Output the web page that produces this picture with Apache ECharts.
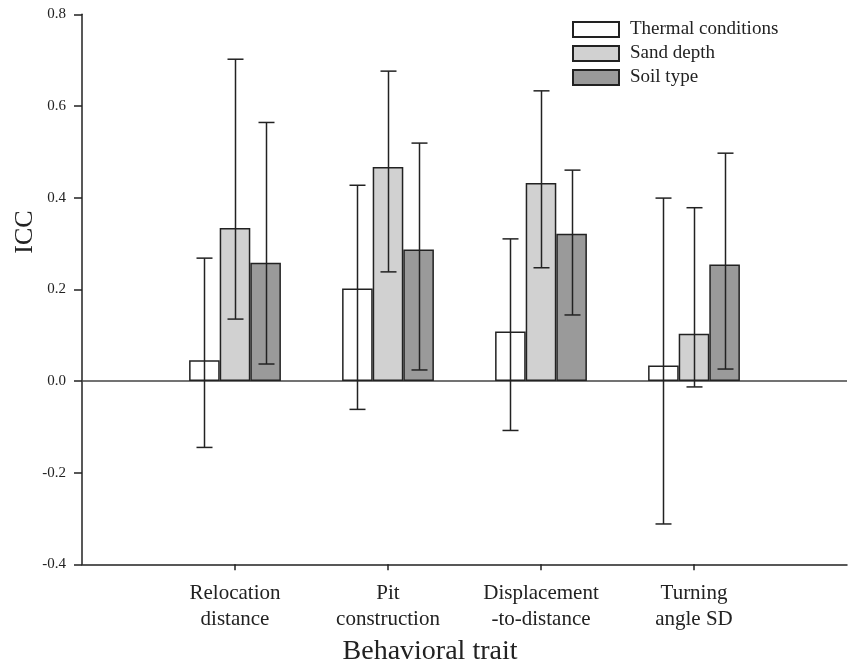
<!DOCTYPE html>
<html>
<head>
<meta charset="utf-8">
<script src="https://cdn.jsdelivr.net/npm/echarts@6/dist/echarts.min.js"></script>
<style>
html,body{margin:0;padding:0;background:#fff;}
#chart{width:848px;height:670px;}
</style>
</head>
<body>
<div id="chart"></div>
<script>
// ---- data ----
var categories = ['', 'Relocation\ndistance', 'Pit\nconstruction', 'Displacement\n-to-distance', 'Turning\nangle SD', ''];
var seriesNames = ['Thermal conditions', 'Sand depth', 'Soil type'];
var thermal = [null, 0.045, 0.202, 0.108, 0.034, null];
var thermalLow = [null, -0.145, -0.062, -0.108, -0.312, null];
var thermalHigh = [null, 0.268, 0.427, 0.310, 0.399, null];
var sand = [null, 0.334, 0.467, 0.432, 0.103, null];
var sandLow = [null, 0.135, 0.238, 0.247, -0.013, null];
var sandHigh = [null, 0.702, 0.676, 0.633, 0.378, null];
var soil = [null, 0.258, 0.287, 0.321, 0.254, null];
var soilLow = [null, 0.037, 0.024, 0.144, 0.026, null];
var soilHigh = [null, 0.564, 0.519, 0.460, 0.497, null];
var yTicks = [-0.4, -0.2, 0.0, 0.2, 0.4, 0.6, 0.8];

// ---- styling ----
var FONT = '"Liberation Serif", "DejaVu Serif", serif';
var INK = '#222222';
var BAR_W = 30.6;
var CAP_HALF = 8;
var fills = ['#ffffff', '#d1d1d1', '#9a9a9a'];

function errData(low, high) {
  var out = [];
  for (var i = 0; i < low.length; i++) {
    if (low[i] != null) out.push([i, low[i], high[i]]);
  }
  return out;
}

function errSeries(low, high, offset) {
  return {
    type: 'custom',
    silent: true,
    z: 10,
    data: errData(low, high),
    encode: { x: 0, y: [1, 2] },
    renderItem: function (params, api) {
      var lo = api.coord([api.value(0), api.value(1)]);
      var hi = api.coord([api.value(0), api.value(2)]);
      var x = Math.round(lo[0] + offset) + 0.5;
      var style = { stroke: INK, lineWidth: 1.5 };
      return {
        type: 'group',
        children: [
          { type: 'line', shape: { x1: x, y1: lo[1], x2: x, y2: hi[1] }, style: style },
          { type: 'line', shape: { x1: x - CAP_HALF, y1: lo[1], x2: x + CAP_HALF, y2: lo[1] }, style: style },
          { type: 'line', shape: { x1: x - CAP_HALF, y1: hi[1], x2: x + CAP_HALF, y2: hi[1] }, style: style }
        ]
      };
    }
  };
}

function barSeries(name, data, fill, extra) {
  var s = {
    name: name,
    type: 'bar',
    data: data,
    barWidth: BAR_W,
    barGap: '0%',
    itemStyle: { color: fill, borderColor: INK, borderWidth: 1.5 },
    emphasis: { disabled: true },
    z: 3
  };
  if (extra) for (var k in extra) s[k] = extra[k];
  return s;
}

var chart = echarts.init(document.getElementById('chart'), null, { renderer: 'canvas' });

var option = {
  animation: false,
  backgroundColor: '#ffffff',
  textStyle: { fontFamily: FONT },
  grid: { left: 82, right: 1, top: 14.3, bottom: 105.7, containLabel: false },
  legend: {
    orient: 'vertical',
    left: 567,
    top: 15,
    itemWidth: 46,
    itemHeight: 15,
    itemGap: 5,
    icon: 'rect',
    data: seriesNames,
    textStyle: { fontFamily: FONT, fontSize: 19, color: INK, padding: [0, 0, 0, 6] },
    selectedMode: false
  },
  xAxis: {
    type: 'category',
    data: categories,
    boundaryGap: false,
    axisLine: { show: true, onZero: false, lineStyle: { color: INK, width: 1.5 } },
    axisTick: {
      show: true,
      length: 6,
      inside: false,
      interval: function (index) { return index >= 1 && index <= 4; },
      lineStyle: { color: INK, width: 1.5 }
    },
    axisLabel: {
      show: true,
      interval: function (index) { return index >= 1 && index <= 4; },
      fontFamily: FONT,
      fontSize: 21,
      lineHeight: 26,
      color: INK,
      margin: 16
    },
    splitLine: { show: false }
  },
  yAxis: {
    type: 'value',
    min: -0.4,
    max: 0.8,
    interval: 0.2,
    axisLine: { show: true, lineStyle: { color: INK, width: 1.5 } },
    axisTick: { show: true, inside: false, length: 8, lineStyle: { color: INK, width: 1.5 } },
    axisLabel: {
      fontFamily: FONT,
      fontSize: 15,
      color: INK,
      margin: 16,
      formatter: function (v) {
        var t = yTicks.filter(function (y) { return Math.abs(y - v) < 1e-9; });
        return t.length ? t[0].toFixed(1) : '';
      }
    },
    splitLine: { show: false }
  },
  graphic: [
    {
      type: 'text',
      x: 25,
      y: 232,
      rotation: Math.PI / 2,
      style: {
        text: 'ICC',
        fontFamily: FONT,
        fontSize: 26,
        fill: INK,
        align: 'center',
        verticalAlign: 'middle'
      }
    },
    {
      type: 'text',
      x: 430,
      y: 652,
      style: {
        text: 'Behavioral trait',
        fontFamily: FONT,
        fontSize: 28,
        fill: INK,
        align: 'center',
        verticalAlign: 'middle'
      }
    }
  ],
  series: [
    barSeries(seriesNames[0], thermal, fills[0], {
      markLine: {
        silent: true,
        symbol: 'none',
        label: { show: false },
        lineStyle: { color: '#444444', width: 1.5, type: 'solid' },
        data: [{ yAxis: 0 }],
        z: 2
      }
    }),
    barSeries(seriesNames[1], sand, fills[1]),
    barSeries(seriesNames[2], soil, fills[2]),
    errSeries(thermalLow, thermalHigh, -BAR_W),
    errSeries(sandLow, sandHigh, 0),
    errSeries(soilLow, soilHigh, BAR_W)
  ]
};

chart.setOption(option);
</script>
</body>
</html>
